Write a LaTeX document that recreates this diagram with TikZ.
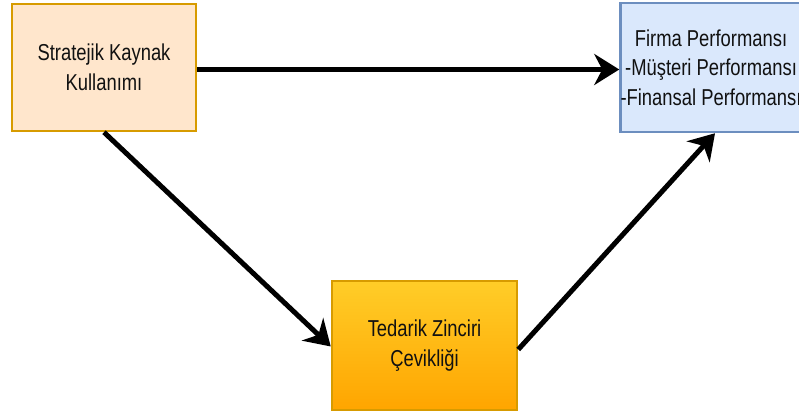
\documentclass[tikz,border=0pt]{standalone}
\usepackage{fontspec}
\setmainfont[FakeStretch=0.8]{Liberation Sans}
\usetikzlibrary{arrows.meta}
\definecolor{peachfill}{HTML}{FFE6CC}
\definecolor{orangeline}{HTML}{D79B00}
\definecolor{bluefill}{HTML}{DAE8FC}
\definecolor{blueline}{HTML}{6C8EBF}
\definecolor{goldtop}{HTML}{FFCD28}
\definecolor{goldbottom}{HTML}{FFA500}
\definecolor{txt}{HTML}{111111}
\tikzset{
  x=1pt, y=1pt,
  boxnode/.style={rectangle, line width=2.5pt, align=center, text=txt,
    font=\fontsize{23}{29.5}\selectfont, inner sep=0pt},
  conn/.style={line width=5pt, black,
    -{Stealth[length=25pt, width=31pt, inset=8pt]}}
}
\begin{document}
\begin{tikzpicture}
\useasboundingbox (0,0) rectangle (799,417);
\clip (0,0) rectangle (799,417);
\node[boxnode, draw=orangeline, fill=peachfill, minimum width=184pt, minimum height=127pt]
  (b1) at (104,349.5) {Stratejik Kaynak\\Kullanımı};
\node[boxnode, draw=blueline, fill=bluefill, minimum width=178pt, minimum height=129pt]
  (b2) at (711,349.5) {Firma Performansı\\-Müşteri Performansı\\-Finansal Performansı};
\node[boxnode, draw=orangeline, top color=goldtop, bottom color=goldbottom, minimum width=185pt, minimum height=129pt]
  (b3) at (424.5,71.5) {Tedarik Zinciri\\Çevikliği};
\draw[conn] ([yshift=-2pt]b1.east) -- ([yshift=-2pt]b2.west);
\draw[conn] (b1.south) -- ([yshift=-1pt]b3.west);
\draw[conn] ([yshift=-4pt]b3.east) -- ([xshift=4pt]b2.south);
\end{tikzpicture}
\end{document}
